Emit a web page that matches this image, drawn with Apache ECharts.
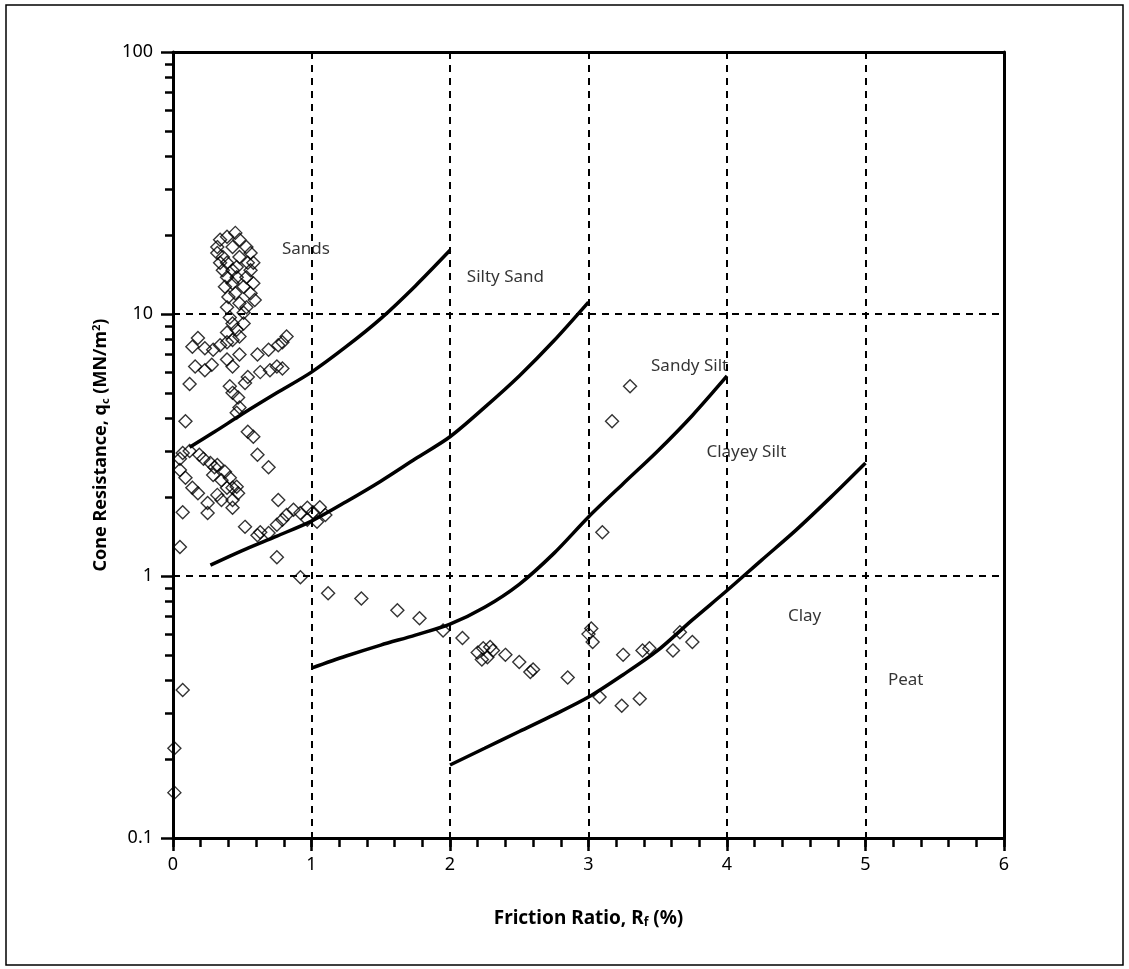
<!DOCTYPE html>
<html>
<head>
<meta charset="utf-8">
<script src="https://cdn.jsdelivr.net/npm/echarts@6/dist/echarts.min.js"></script>
<style>
html,body{margin:0;padding:0;background:#fff;}
#chart{width:1129px;height:969px;}
</style>
</head>
<body>
<div id="chart"></div>
<script>
// ---- Data ----
const xTicks = [0, 1, 2, 3, 4, 5, 6];
const yTicks = [0.1, 1, 10, 100];
const yTickLabels = ['0.1', '1', '10', '100'];
const yMinorTicks = [0.2,0.3,0.4,0.5,0.6,0.7,0.8,0.9,2,3,4,5,6,7,8,9,20,30,40,50,60,70,80,90];

// Boundary lines [Rf %, qc MN/m2]
const sandsSiltySand = [[0.12,3.1],[0.3,3.55],[0.5,4.15],[0.75,5.0],[1.0,6.0],[1.25,7.5],[1.5,9.6],[1.75,12.8],[2.0,17.5]];
const siltySandSandySilt = [[0.27,1.1],[0.5,1.25],[0.75,1.42],[1.0,1.62],[1.25,1.92],[1.5,2.3],[1.75,2.8],[2.0,3.4],[2.25,4.4],[2.5,5.8],[2.75,7.9],[3.0,11.1]];
const sandySiltClayeySilt = [[1.0,0.445],[1.25,0.495],[1.5,0.545],[1.75,0.595],[2.0,0.655],[2.25,0.76],[2.5,0.93],[2.75,1.22],[3.0,1.68],[3.25,2.25],[3.5,3.0],[3.75,4.1],[4.0,5.8]];
const clayeySiltClay = [[2.0,0.19],[2.25,0.22],[2.5,0.255],[2.75,0.295],[3.0,0.345],[3.25,0.42],[3.5,0.52],[3.75,0.68],[4.0,0.88],[4.25,1.15],[4.5,1.5],[4.75,2.0],[5.0,2.7]];

// Zone labels [Rf, qc, text]
const zoneLabels = [
  [0.96, 17.7, 'Sands'],
  [2.40, 13.8, 'Silty Sand'],
  [3.73, 6.3, 'Sandy Silt'],
  [4.14, 2.97, 'Clayey Silt'],
  [4.56, 0.70, 'Clay'],
  [5.29, 0.40, 'Peat']
];

// CPT measurements [Rf, qc]
const upperLoop = [
  [0.45,20.4],[0.39,19.7],[0.34,19.2],[0.32,18.0],[0.32,17.1],[0.36,16.5],[0.39,15.7],[0.36,14.7],[0.39,13.8],
  [0.43,13.1],[0.375,12.7],[0.40,11.6],[0.39,10.6],[0.48,19.2],[0.53,18.0],[0.56,17.1],[0.58,15.7],[0.56,14.7],
  [0.53,13.8],[0.58,13.1],[0.56,12.0],[0.59,11.3],[0.53,10.6],[0.51,10.1],[0.48,11.0],[0.46,15.1],[0.48,16.5],
  [0.43,18.0],[0.51,12.7],[0.46,13.8],[0.43,14.7],[0.45,12.0],[0.34,15.7],[0.54,15.7],[0.41,9.7],[0.43,9.2],
  [0.46,8.7],[0.48,8.2],[0.39,8.5],[0.51,9.2]
];
const middlePoints = [
  [0.14,7.5],[0.18,8.1],[0.23,7.4],[0.29,7.3],[0.34,7.6],[0.39,7.8],[0.43,7.95],[0.48,7.0],[0.61,7.0],[0.69,7.3],
  [0.76,7.6],[0.82,8.2],[0.79,7.8],[0.16,6.3],[0.23,6.1],[0.28,6.4],[0.12,5.4],[0.41,5.3],[0.43,5.0],[0.47,4.8],
  [0.48,4.4],[0.63,6.0],[0.70,6.1],[0.75,6.3],[0.79,6.2],[0.54,5.75],[0.52,5.45],[0.43,6.3],[0.39,6.7],[0.46,4.2],
  [0.09,3.9],[0.54,3.55],[0.58,3.4],[0.61,2.9],[0.69,2.6],[0.76,1.95]
];
const lowerLoop = [
  [0.05,2.8],[0.07,2.95],[0.12,3.0],[0.19,2.9],[0.27,2.7],[0.32,2.65],[0.375,2.5],[0.41,2.37],[0.46,2.19],[0.47,2.07],
  [0.43,1.95],[0.43,1.82],[0.35,1.95],[0.25,1.9],[0.25,1.74],[0.18,2.07],[0.14,2.17],[0.09,2.37],[0.05,2.54],[0.29,2.43],
  [0.35,2.32],[0.39,2.17],[0.32,2.04],[0.22,2.8],[0.30,2.6],[0.43,2.17],[0.07,1.75],[0.05,1.29]
];
const siltPoints = [
  [0.52,1.54],[0.61,1.43],[0.63,1.47],[0.69,1.46],[0.75,1.57],[0.79,1.64],[0.82,1.71],[0.87,1.79],[0.92,1.74],[0.97,1.82],
  [1.01,1.75],[1.06,1.83],[1.10,1.71],[1.04,1.61],[0.97,1.64],[0.75,1.18],[0.92,0.99],[1.12,0.86],[1.36,0.82],[1.62,0.74],
  [1.78,0.69],[1.95,0.62],[2.09,0.58],[2.20,0.51],[2.24,0.53],[2.27,0.49],[2.31,0.52],[2.23,0.48],[2.29,0.536],[2.40,0.50],
  [2.50,0.47],[2.58,0.43],[2.60,0.44],[2.85,0.41],[3.02,0.63],[3.0,0.60],[3.03,0.56],[3.08,0.345],[3.25,0.50],[3.39,0.52],
  [3.44,0.53],[3.24,0.32],[3.37,0.34],[3.61,0.52],[3.66,0.61],[3.75,0.56],[3.30,5.3],[3.17,3.9],[3.10,1.47],
  [0.07,0.367],[0.01,0.22],[0.01,0.149]
];

// ---- Chart ----
const chart = echarts.init(document.getElementById('chart'), null, {renderer: 'canvas'});
const FONT = 'Noto Sans';
const BLACK = '#000';
const tickLine = {color: BLACK, width: 2.5, type: 'solid'};

function boundary(data) {
  return {type: 'line', data: data, smooth: 0.3, symbol: 'none', lineStyle: {color: BLACK, width: 3.5}, z: 3, silent: true};
}
const pointSeries = (data) => ({
  type: 'scatter', data: data, symbol: 'diamond', symbolSize: 13,
  itemStyle: {color: 'rgba(255,255,255,0)', borderColor: BLACK, borderWidth: 1.4}, z: 4
});
// helper axes for tick strips (only their split lines are visible)
function stripX(gridIndex, extra) {
  return Object.assign({gridIndex: gridIndex, type: 'value', min: 0, max: 6,
    axisLine: {show: false}, axisTick: {show: false}, axisLabel: {show: false},
    splitLine: {show: false}}, extra);
}
function stripY(gridIndex, extra) {
  return Object.assign({gridIndex: gridIndex, type: 'log', logBase: 10, min: 0.1, max: 100,
    axisLine: {show: false}, axisTick: {show: false}, axisLabel: {show: false},
    splitLine: {show: false}}, extra);
}
function stripV(gridIndex) {
  return {gridIndex: gridIndex, type: 'value', min: 0, max: 1,
    axisLine: {show: false}, axisTick: {show: false}, axisLabel: {show: false}, splitLine: {show: false}};
}

const option = {
  animation: false,
  backgroundColor: '#fff',
  textStyle: {fontFamily: FONT},
  grid: [
    {left: 173, right: 125, top: 52, bottom: 131, show: false, containLabel: false},   // plot
    {left: 173, right: 125, top: 838, height: 13, show: false, containLabel: false},   // x major ticks
    {left: 173, right: 125, top: 838, height: 9, show: false, containLabel: false},    // x minor ticks
    {left: 161, width: 12, top: 52, bottom: 131, show: false, containLabel: false},    // y major ticks
    {left: 165, width: 8, top: 52, bottom: 131, show: false, containLabel: false}      // y minor ticks
  ],
  graphic: [{
    type: 'rect', shape: {x: 6, y: 5, width: 1117, height: 960},
    style: {fill: 'none', stroke: BLACK, lineWidth: 1.5}, silent: true, z: 0
  }],
  xAxis: [{
    gridIndex: 0, type: 'value', min: 0, max: 6, interval: 1, position: 'bottom',
    name: '{b|Friction Ratio, R}{sub|f}{b| (%)}',
    nameLocation: 'middle', nameGap: 70,
    nameTextStyle: {rich: {
      b: {fontFamily: FONT, fontWeight: 'bold', fontSize: 19, color: BLACK},
      sub: {fontFamily: FONT, fontWeight: 'bold', fontSize: 12, color: BLACK, padding: [9, 0, 0, 0]}
    }},
    axisLine: {show: true, onZero: false, lineStyle: {color: BLACK, width: 3}},
    axisTick: {show: false},
    axisLabel: {show: true, color: BLACK, fontSize: 18, margin: 18, fontFamily: FONT},
    splitLine: {show: true, lineStyle: {color: BLACK, width: 2, type: [7, 6]}}
  }, {
    gridIndex: 0, type: 'value', min: 0, max: 6, position: 'top',
    axisLine: {show: true, onZero: false, lineStyle: {color: BLACK, width: 3}},
    axisTick: {show: false}, axisLabel: {show: false}, splitLine: {show: false}
  },
    stripX(1, {interval: 1, splitLine: {show: true, lineStyle: tickLine}}),
    stripX(2, {interval: 0.2, splitLine: {show: true, lineStyle: tickLine}}),
    stripV(3),
    stripV(4)
  ],
  yAxis: [{
    gridIndex: 0, type: 'log', logBase: 10, min: 0.1, max: 100, position: 'left',
    name: '{b|Cone Resistance, q}{sub|c}{b| (MN/m}{sup|2}{b|)}',
    nameLocation: 'middle', nameGap: 58, nameRotate: 90,
    nameTextStyle: {rich: {
      b: {fontFamily: FONT, fontWeight: 'bold', fontSize: 18, color: BLACK},
      sub: {fontFamily: FONT, fontWeight: 'bold', fontSize: 11, color: BLACK, padding: [9, 0, 0, 0]},
      sup: {fontFamily: FONT, fontWeight: 'bold', fontSize: 11, color: BLACK, padding: [0, 0, 9, 0]}
    }},
    axisLine: {show: true, onZero: false, lineStyle: {color: BLACK, width: 3}},
    axisTick: {show: false},
    axisLabel: {show: true, color: BLACK, fontSize: 18, margin: 20, fontFamily: FONT,
      formatter: (v) => {
        const i = yTicks.findIndex(t => Math.abs(t - v) < 1e-9 * Math.max(1, v));
        return i >= 0 ? yTickLabels[i] : '';
      }},
    splitLine: {show: true, lineStyle: {color: BLACK, width: 2, type: [7, 6]}}
  }, {
    gridIndex: 0, type: 'log', logBase: 10, min: 0.1, max: 100, position: 'right',
    axisLine: {show: true, onZero: false, lineStyle: {color: BLACK, width: 3}},
    axisTick: {show: false}, axisLabel: {show: false}, splitLine: {show: false}
  },
    stripV(1),
    stripV(2),
    stripY(3, {splitLine: {show: true, lineStyle: tickLine}}),
    stripY(4)
  ],
  series: [
    boundary(sandsSiltySand),
    boundary(siltySandSandySilt),
    boundary(sandySiltClayeySilt),
    boundary(clayeySiltClay),
    pointSeries(upperLoop),
    pointSeries(middlePoints),
    pointSeries(lowerLoop),
    pointSeries(siltPoints),
    {
      type: 'scatter', symbolSize: 0, silent: true, z: 5,
      data: zoneLabels.map(d => ({value: [d[0], d[1]], name: d[2]})),
      label: {show: true, position: 'inside', formatter: (p) => p.name, color: BLACK, fontSize: 17, fontFamily: FONT}
    },
    {
      // minor y ticks: horizontal mark lines across the narrow left strip
      type: 'line', xAxisIndex: 5, yAxisIndex: 5, data: [[0, 1]], symbol: 'none', silent: true,
      lineStyle: {width: 0},
      markLine: {
        silent: true, symbol: 'none', label: {show: false},
        lineStyle: tickLine,
        data: yMinorTicks.map(v => ({yAxis: v}))
      }
    }
  ]
};
chart.setOption(option);
</script>
</body>
</html>
